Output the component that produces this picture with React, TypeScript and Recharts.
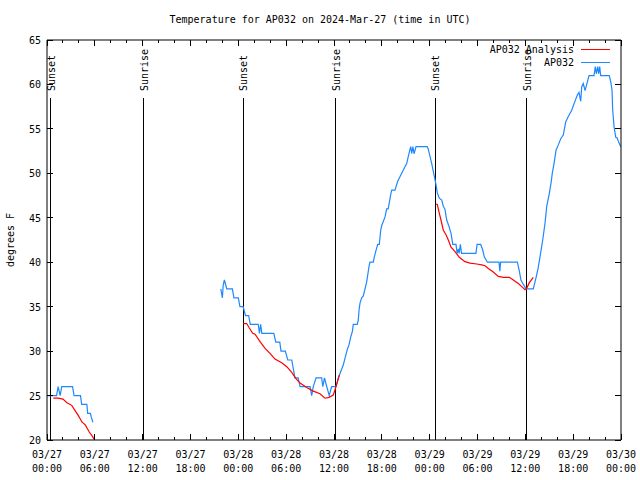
import React from 'react';
import { LineChart, Line, XAxis, YAxis, ReferenceLine } from 'recharts';

// hours since 2024-03-27 00:00 UTC
const hourTicks = [0, 2, 4, 6, 8, 10, 12, 14, 16, 18, 20, 22, 24, 26, 28, 30, 32, 34, 36, 38, 40, 42, 44, 46, 48, 50, 52, 54, 56, 58, 60, 62, 64, 66, 68, 70, 72];
const dayLabels = ['03/27', '03/27', '03/27', '03/27', '03/28', '03/28', '03/28', '03/28', '03/29', '03/29', '03/29', '03/29', '03/30'];
const timeLabels = ['00:00', '06:00', '12:00', '18:00', '00:00', '06:00', '12:00', '18:00', '00:00', '06:00', '12:00', '18:00', '00:00'];
const tempTicks = [20, 25, 30, 35, 40, 45, 50, 55, 60, 65];

const sunEvents = [
  { hour: 0.45, label: 'Sunset' },
  { hour: 12.15, label: 'Sunrise' },
  { hour: 24.6, label: 'Sunset' },
  { hour: 36.25, label: 'Sunrise' },
  { hour: 48.7, label: 'Sunset' },
  { hour: 60.2, label: 'Sunrise' },
];

// observed AP032 temps [hour, degF]
const obsMar27: [number, number][] = [
  [0, 25], [1.2, 25], [1.4, 26], [1.65, 25], [1.85, 26], [3.2, 26], [3.4, 25], [4.2, 25],
  [4.35, 24], [5.0, 24], [5.1, 23], [5.45, 23], [5.55, 22.6], [5.75, 22],
];
const obsMar28to30: [number, number][] = [
  [21.8, 37], [22.0, 36], [22.1, 37.4], [22.25, 38], [22.55, 37], [23.25, 37], [23.45, 36], [24.0, 36],
  [24.2, 35], [24.6, 35], [24.9, 34], [25.3, 34], [25.5, 33], [26.5, 33], [26.65, 32], [26.8, 33],
  [26.95, 32], [28.45, 32], [28.7, 31], [29.2, 31], [29.35, 30], [29.9, 30], [30.2, 29], [30.7, 29],
  [30.9, 28], [31.1, 27], [31.5, 27], [31.75, 26], [33.0, 26], [33.2, 25], [33.4, 26], [33.75, 27],
  [34.45, 27], [34.6, 26], [34.8, 27], [35.0, 26.3], [35.4, 25], [35.7, 26], [36.25, 26], [36.55, 27],
  [37.15, 28.4], [37.67, 30.2], [37.88, 30.7], [38.1, 31.6], [38.3, 32.2], [38.42, 33], [38.92, 33],
  [39.05, 33.5], [39.14, 34.6], [39.26, 35.4], [39.47, 36], [39.68, 36.2], [39.89, 37], [40.1, 37.8],
  [40.39, 39.5], [40.51, 40], [40.93, 40], [41.06, 40.6], [41.23, 41.2], [41.48, 42], [41.68, 42],
  [41.86, 43.6], [41.98, 44.1], [42.4, 45.1], [42.61, 46], [42.8, 46], [43.11, 47.6], [43.24, 48.1],
  [43.65, 48.1], [43.78, 48.5], [43.99, 49.1], [44.49, 50], [44.9, 50.75], [45.12, 51.1], [45.32, 51.9],
  [45.62, 53], [45.75, 52.25], [45.9, 53], [46.04, 52.2], [46.29, 53], [47.7, 53], [47.83, 52.7],
  [48.04, 51.9], [48.26, 51.1], [48.46, 50.2], [48.76, 48.9], [48.96, 47.8], [49.21, 47.2], [49.51, 47],
  [49.71, 46.3], [49.92, 45.95], [50.14, 44.75], [50.43, 44], [50.68, 43.25], [50.9, 42], [51.3, 42],
  [51.45, 41], [51.6, 41.5], [51.7, 41], [51.85, 42], [52.0, 41], [53.8, 41], [53.95, 42], [54.4, 42],
  [54.65, 41.4], [54.85, 40.6], [55.25, 40], [56.7, 40], [56.8, 39], [56.9, 40], [59.0, 40], [59.25, 39],
  [59.45, 38], [59.75, 37.5], [60.1, 37], [61.0, 37], [61.35, 38.3], [61.6, 39.3], [61.84, 40.6],
  [62.18, 42.5], [62.47, 44.4], [62.68, 46.25], [63.01, 47.75], [63.22, 48.9], [63.38, 50], [63.6, 51.1],
  [63.85, 52.6], [64.14, 53.2], [64.44, 53.9], [64.76, 54.3], [65.07, 55.8], [65.39, 56.4], [65.82, 57.1],
  [66.14, 57.9], [66.52, 58.8], [66.73, 59.1], [66.95, 58.1], [67.07, 59.75], [67.27, 60.1], [67.49, 59.3],
  [67.7, 60], [67.99, 61], [68.61, 61], [68.78, 62], [68.9, 61.2], [69.08, 62], [69.2, 61.2], [69.33, 62],
  [69.45, 61], [70.53, 61], [70.71, 60.3], [70.87, 59.4], [70.96, 57.1], [71.13, 55.25], [71.34, 54.05],
  [71.5, 54], [71.76, 53.4], [71.97, 53],
];

// analysis temps [hour, degF]
const analysisMar27: [number, number][] = [
  [0.8, 24.7], [1.4, 24.7], [2.0, 24.6], [2.5, 24.2], [3.1, 23.9], [3.6, 23.2], [3.9, 22.8],
  [4.4, 22.0], [4.8, 21.7], [5.3, 20.9], [5.7, 20.4], [5.9, 20.1],
];
const analysisMar28: [number, number][] = [
  [24.62, 33.1], [25.05, 33.1], [25.38, 32.6], [25.8, 32.0], [26.1, 31.9], [26.72, 31.06], [27.35, 30.3],
  [27.97, 29.75], [28.6, 29.1], [29.44, 28.7], [30.07, 28.25], [30.7, 27.6], [31.23, 26.9], [31.74, 26.4],
  [32.58, 25.9], [33.4, 25.5], [34.24, 25.2], [34.87, 24.7], [35.37, 24.8], [35.91, 25.06], [36.25, 26],
  [36.67, 27.3],
];
const analysisMar29: [number, number][] = [
  [48.8, 46.55], [48.96, 46.5], [49.21, 45.5], [49.42, 44.75], [49.71, 43.6], [50.05, 43.1], [50.34, 42.5],
  [50.68, 41.7], [51.18, 41.2], [51.72, 40.55], [52.43, 40.06], [53.06, 39.9], [53.9, 39.8], [54.53, 39.7],
  [54.94, 39.6], [55.36, 39.3], [55.98, 38.9], [56.61, 38.4], [57.24, 38.3], [57.99, 38.3], [58.49, 38],
  [59.12, 37.6], [59.55, 37.25], [59.96, 36.9], [60.17, 37.06], [60.5, 37.7], [61.0, 38.3],
];

// join segments with a null point so the line breaks at the gaps
const joinSegments = (segs: [number, number][][]) => {
  const out: { h: number; t: number | null }[] = [];
  segs.forEach((seg, i) => {
    if (i > 0) out.push({ h: (out[out.length - 1].h + seg[0][0]) / 2, t: null });
    seg.forEach(([h, t]) => out.push({ h, t }));
  });
  return out;
};

const obsData = joinSegments([obsMar27, obsMar28to30]);
const analysisData = joinSegments([analysisMar27, analysisMar28, analysisMar29]);

const FONT = '"DejaVu Sans Mono", monospace';
const FS = 10;
const BLUE = '#1e88ff';
const RED = '#ff0000';

const BottomTick = (props: any) => {
  const { x, y, payload } = props;
  const h = payload.value;
  const major = h % 6 === 0;
  const i = h / 6;
  return (
    <g>
      <line x1={x} y1={y} x2={x} y2={y - (major ? 6 : 3)} stroke="#000" shapeRendering="crispEdges" />
      {major && (
        <text x={x} y={y + 18} textAnchor="middle" fontFamily={FONT} fontSize={FS} fill="#000">
          {dayLabels[i]}
        </text>
      )}
      {major && (
        <text x={x} y={y + 32} textAnchor="middle" fontFamily={FONT} fontSize={FS} fill="#000">
          {timeLabels[i]}
        </text>
      )}
    </g>
  );
};

const TopTick = (props: any) => {
  const { x, y, payload } = props;
  const major = payload.value % 6 === 0;
  return <line x1={x} y1={y} x2={x} y2={y + (major ? 6 : 3)} stroke="#000" shapeRendering="crispEdges" />;
};

const LeftTick = (props: any) => {
  const { x, y, payload } = props;
  return (
    <g>
      <line x1={x} y1={y} x2={x + 6} y2={y} stroke="#000" shapeRendering="crispEdges" />
      <text x={x - 6} y={y + 4} textAnchor="end" fontFamily={FONT} fontSize={FS} fill="#000">
        {payload.value}
      </text>
    </g>
  );
};

const RightTick = (props: any) => {
  const { x, y } = props;
  return <line x1={x} y1={y} x2={x - 6} y2={y} stroke="#000" shapeRendering="crispEdges" />;
};

const sunShape = (label: string) => (p: any) => {
  const top = Math.min(p.y1, p.y2);
  const bottom = Math.max(p.y1, p.y2);
  const x = p.x1;
  return (
    <g>
      <line x1={x} y1={top + 58} x2={x} y2={bottom} stroke="#000" strokeWidth={1} shapeRendering="crispEdges" />
      <text
        x={x + 4}
        y={top + 51}
        transform={`rotate(-90 ${x + 4} ${top + 51})`}
        fontFamily={FONT}
        fontSize={FS}
        fill="#000"
      >
        {label}
      </text>
    </g>
  );
};

export default function App() {
  return (
    <div style={{ position: 'relative', width: 640, height: 480, background: '#fff' }}>
      <style>{'body{margin:0}'}</style>
      <LineChart width={640} height={480} margin={{ top: 10, right: 0, bottom: 0, left: 0 }}>
        <XAxis
          type="number"
          dataKey="h"
          domain={[0, 72]}
          ticks={hourTicks}
          interval={0}
          height={40}
          tickSize={0}
          tickMargin={0}
          tick={<BottomTick />}
          axisLine={{ stroke: '#000' }}
          allowDataOverflow
        />
        <XAxis
          xAxisId="top"
          orientation="top"
          type="number"
          dataKey="h"
          domain={[0, 72]}
          ticks={hourTicks}
          interval={0}
          height={30}
          tickSize={0}
          tickMargin={0}
          tick={<TopTick />}
          axisLine={{ stroke: '#000' }}
          allowDataOverflow
        />
        <YAxis
          type="number"
          domain={[20, 65]}
          ticks={tempTicks}
          interval={0}
          width={47}
          tickSize={0}
          tickMargin={0}
          tick={<LeftTick />}
          axisLine={{ stroke: '#000' }}
          allowDataOverflow
        />
        <YAxis
          yAxisId="right"
          orientation="right"
          type="number"
          domain={[20, 65]}
          ticks={tempTicks}
          interval={0}
          width={19}
          tickSize={0}
          tickMargin={0}
          tick={<RightTick />}
          axisLine={{ stroke: '#000' }}
          allowDataOverflow
        />
        {sunEvents.map((s, i) => (
          <ReferenceLine key={i} x={s.hour} stroke="#000" shape={sunShape(s.label)} />
        ))}
        <Line
          data={obsData}
          dataKey="t"
          type="linear"
          stroke={BLUE}
          strokeWidth={1.2}
          dot={false}
          connectNulls={false}
          isAnimationActive={false}
        />
        <Line
          data={analysisData}
          dataKey="t"
          type="linear"
          stroke={RED}
          strokeWidth={1.2}
          dot={false}
          connectNulls={false}
          isAnimationActive={false}
        />
      </LineChart>
      <svg
        width={640}
        height={480}
        style={{ position: 'absolute', left: 0, top: 0, pointerEvents: 'none' }}
      >
        <text x={320} y={23} textAnchor="middle" fontFamily={FONT} fontSize={FS} fill="#000">
          Temperature for AP032 on 2024-Mar-27 (time in UTC)
        </text>
        <text
          x={14}
          y={240}
          textAnchor="middle"
          transform="rotate(-90 14 240)"
          fontFamily={FONT}
          fontSize={FS}
          fill="#000"
        >
          degrees F
        </text>
        <text x={574} y={53} textAnchor="end" fontFamily={FONT} fontSize={FS} fill="#000">
          AP032 Analysis
        </text>
        <line x1={581} y1={49} x2={610} y2={49} stroke={RED} shapeRendering="crispEdges" />
        <text x={574} y={66} textAnchor="end" fontFamily={FONT} fontSize={FS} fill="#000">
          AP032
        </text>
        <line x1={581} y1={62} x2={610} y2={62} stroke={BLUE} shapeRendering="crispEdges" />
      </svg>
    </div>
  );
}
